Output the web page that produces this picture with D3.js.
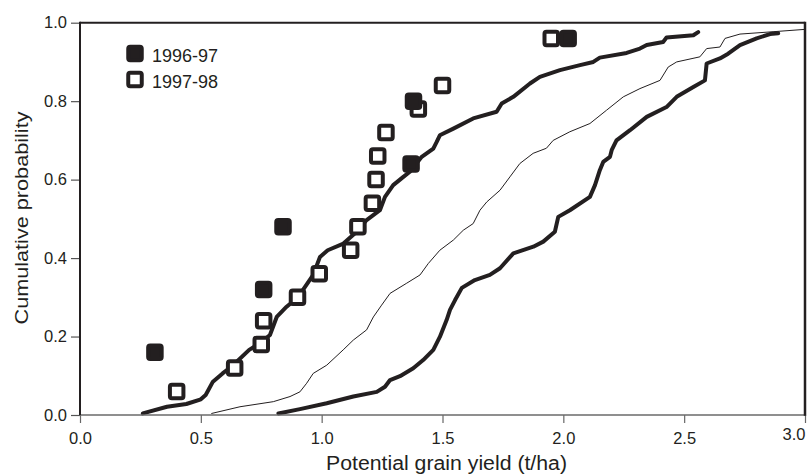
<!DOCTYPE html>
<html>
<head>
<meta charset="utf-8">
<script src="https://cdn.jsdelivr.net/npm/d3@7"></script>
<style>
  html, body { margin: 0; padding: 0; background: #fff; }
  svg { display: block; font-family: "Liberation Sans", Arial, Helvetica, sans-serif; }
</style>
</head>
<body>
<svg id="chart" width="809" height="475"></svg>
<script>
// Axis ticks
const xTicks = [0, 0.5, 1.0, 1.5, 2.0, 2.5, 3.0];
const yTicks = [0, 0.2, 0.4, 0.6, 0.8, 1.0];

// Observed yields, [yield t/ha, cumulative probability]
const obs9697 = [[0.31, 0.16], [0.76, 0.32], [0.84, 0.48], [1.37, 0.64], [1.38, 0.80], [2.02, 0.96]];
const obs9798 = [[0.40, 0.06], [0.64, 0.12], [0.75, 0.18], [0.76, 0.24], [0.90, 0.30], [0.99, 0.36],
  [1.12, 0.42], [1.15, 0.48], [1.21, 0.54], [1.225, 0.60], [1.232, 0.66], [1.266, 0.72],
  [1.40, 0.78], [1.50, 0.84], [1.95, 0.96]];

// Simulated cumulative distributions
const simLow = [[0.26,0.004],[0.36,0.021],[0.44,0.028],[0.50,0.040],[0.52,0.051],[0.55,0.085],[0.59,0.106],
  [0.63,0.125],[0.70,0.166],[0.745,0.183],[0.786,0.204],[0.814,0.25],[0.855,0.276],[0.903,0.301],
  [0.965,0.357],[0.993,0.403],[1.025,0.42],[1.09,0.437],[1.145,0.467],[1.186,0.497],[1.241,0.522],
  [1.262,0.556],[1.296,0.586],[1.338,0.607],[1.365,0.62],[1.414,0.658],[1.462,0.679],[1.476,0.696],
  [1.489,0.713],[1.545,0.73],[1.627,0.756],[1.724,0.773],[1.745,0.794],[1.793,0.811],[1.862,0.845],
  [1.903,0.862],[1.986,0.879],[2.069,0.892],[2.124,0.90],[2.151,0.911],[2.262,0.923],[2.317,0.934],
  [2.345,0.943],[2.413,0.951],[2.427,0.962],[2.538,0.968],[2.558,0.976]];

const simMid = [[0.545,0.004],[0.662,0.021],[0.80,0.034],[0.869,0.047],[0.91,0.059],[0.938,0.081],
  [0.965,0.106],[1.021,0.127],[1.089,0.166],[1.131,0.191],[1.186,0.217],[1.214,0.25],[1.248,0.28],
  [1.283,0.31],[1.352,0.336],[1.407,0.357],[1.441,0.386],[1.489,0.42],[1.545,0.446],[1.586,0.471],
  [1.627,0.488],[1.655,0.522],[1.683,0.543],[1.738,0.573],[1.779,0.607],[1.82,0.641],[1.875,0.667],
  [1.93,0.680],[1.958,0.70],[2.027,0.722],[2.11,0.743],[2.179,0.777],[2.248,0.811],[2.317,0.832],
  [2.40,0.853],[2.434,0.887],[2.469,0.90],[2.565,0.913],[2.593,0.934],[2.648,0.938],[2.669,0.96],
  [2.731,0.971],[2.868,0.977],[3.0,0.983]];

const simHigh = [[0.821,0.004],[0.91,0.015],[1.021,0.03],[1.131,0.047],[1.228,0.059],[1.262,0.072],
  [1.283,0.089],[1.324,0.099],[1.379,0.119],[1.42,0.14],[1.462,0.166],[1.489,0.199],[1.517,0.242],
  [1.531,0.268],[1.552,0.293],[1.58,0.324],[1.634,0.344],[1.696,0.357],[1.738,0.374],[1.793,0.412],
  [1.876,0.429],[1.917,0.442],[1.965,0.467],[1.979,0.505],[2.027,0.522],[2.11,0.556],[2.131,0.586],
  [2.151,0.624],[2.165,0.645],[2.193,0.658],[2.2,0.675],[2.22,0.70],[2.276,0.726],[2.345,0.76],
  [2.427,0.785],[2.469,0.811],[2.538,0.836],[2.586,0.853],[2.593,0.896],[2.648,0.909],[2.682,0.921],
  [2.731,0.943],[2.80,0.96],[2.855,0.971],[2.889,0.973]];

const legendItems = [{ label: "1996-97", filled: true }, { label: "1997-98", filled: false }];

const ink = "#231f20";
const svg = d3.select("#chart");
const plotLeft = 80, plotRight = 805, plotTop = 22.7, plotBottom = 415;

const x = d3.scaleLinear().domain([0, 3]).range([plotLeft, plotRight]);
const y = d3.scaleLinear().domain([0, 1]).range([plotBottom, plotTop]);

// Simulated curves
const line = d3.line().x(d => x(d[0])).y(d => y(d[1])).curve(d3.curveLinear);
const curves = [
  { data: simLow, width: 4 },
  { data: simMid, width: 1 },
  { data: simHigh, width: 4 }
];
svg.append("g").selectAll("path").data(curves).join("path")
  .attr("d", d => line(d.data))
  .attr("fill", "none")
  .attr("stroke", ink)
  .attr("stroke-width", d => d.width)
  .attr("stroke-linejoin", "round")
  .attr("stroke-linecap", "round");

// Axes
const xAxis = svg.append("g")
  .attr("transform", `translate(0,${plotBottom})`)
  .call(d3.axisBottom(x).tickValues(xTicks).tickFormat(d3.format(".1f")).tickSize(8).tickPadding(9));
xAxis.select(".domain").remove();
xAxis.selectAll(".tick line").attr("stroke", "#666").attr("stroke-width", 1.2);
xAxis.selectAll(".tick text").attr("font-size", 16.5).attr("fill", ink)
  .attr("font-family", "'Liberation Sans', Arial, sans-serif");
// last label sits flush against the right edge
xAxis.selectAll(".tick text").filter(d => d === 3.0)
  .attr("text-anchor", "end").attr("x", 0).attr("dy", "0.5em");

const yAxis = svg.append("g")
  .attr("transform", `translate(${plotLeft},0)`)
  .call(d3.axisLeft(y).tickValues(yTicks).tickFormat(d3.format(".1f")).tickSize(9).tickPadding(4));
yAxis.select(".domain").remove();
yAxis.selectAll(".tick line").attr("stroke", "#555").attr("stroke-width", 1.2);
yAxis.selectAll(".tick text").attr("font-size", 16.5).attr("fill", ink)
  .attr("font-family", "'Liberation Sans', Arial, sans-serif");

// Frame
svg.append("line").attr("x1", plotLeft).attr("x2", plotRight).attr("y1", plotBottom).attr("y2", plotBottom)
  .attr("stroke", "#6a6a6a").attr("stroke-width", 1.6);
svg.append("line").attr("x1", plotLeft).attr("x2", plotRight).attr("y1", plotTop).attr("y2", plotTop)
  .attr("stroke", ink).attr("stroke-width", 2);
svg.append("line").attr("x1", plotLeft).attr("x2", plotLeft).attr("y1", plotTop - 1).attr("y2", plotBottom)
  .attr("stroke", ink).attr("stroke-width", 2);
svg.append("line").attr("x1", plotRight).attr("x2", plotRight).attr("y1", plotTop - 1).attr("y2", plotBottom + 0.8)
  .attr("stroke", ink).attr("stroke-width", 2.5);

// Observed points: open squares first, filled on top
const side = 13.5;
const marker = (g, data, filled) => g.selectAll("rect").data(data).join("rect")
  .attr("x", d => x(d[0]) - side / 2)
  .attr("y", d => y(d[1]) - side / 2)
  .attr("width", side).attr("height", side)
  .attr("rx", 2).attr("ry", 2)
  .attr("fill", filled ? ink : "#fff")
  .attr("stroke", ink).attr("stroke-width", 4);
marker(svg.append("g"), obs9798, false);
marker(svg.append("g"), obs9697, true);

// Legend
const lg = svg.append("g").attr("transform", "translate(135,53.5)");
const li = lg.selectAll("g").data(legendItems).join("g")
  .attr("transform", (d, i) => `translate(0,${i * 26})`);
li.append("rect")
  .attr("x", -side / 2).attr("y", -side / 2).attr("width", side).attr("height", side)
  .attr("rx", 2).attr("ry", 2)
  .attr("fill", d => d.filled ? ink : "#fff")
  .attr("stroke", ink).attr("stroke-width", 4);
li.append("text")
  .attr("x", 17).attr("y", 8.5)
  .attr("font-size", 18).attr("fill", ink)
  .text(d => d.label);

// Axis titles
svg.append("text")
  .attr("x", (plotLeft + plotRight) / 2 + 4).attr("y", 470)
  .attr("text-anchor", "middle").attr("font-size", 20).attr("fill", ink)
  .attr("textLength", 241).attr("lengthAdjust", "spacingAndGlyphs")
  .text("Potential grain yield (t/ha)");
svg.append("text")
  .attr("transform", `translate(27.5,${218}) rotate(-90)`)
  .attr("text-anchor", "middle").attr("font-size", 18).attr("fill", ink)
  .attr("textLength", 213).attr("lengthAdjust", "spacingAndGlyphs")
  .text("Cumulative probability");
</script>
</body>
</html>
